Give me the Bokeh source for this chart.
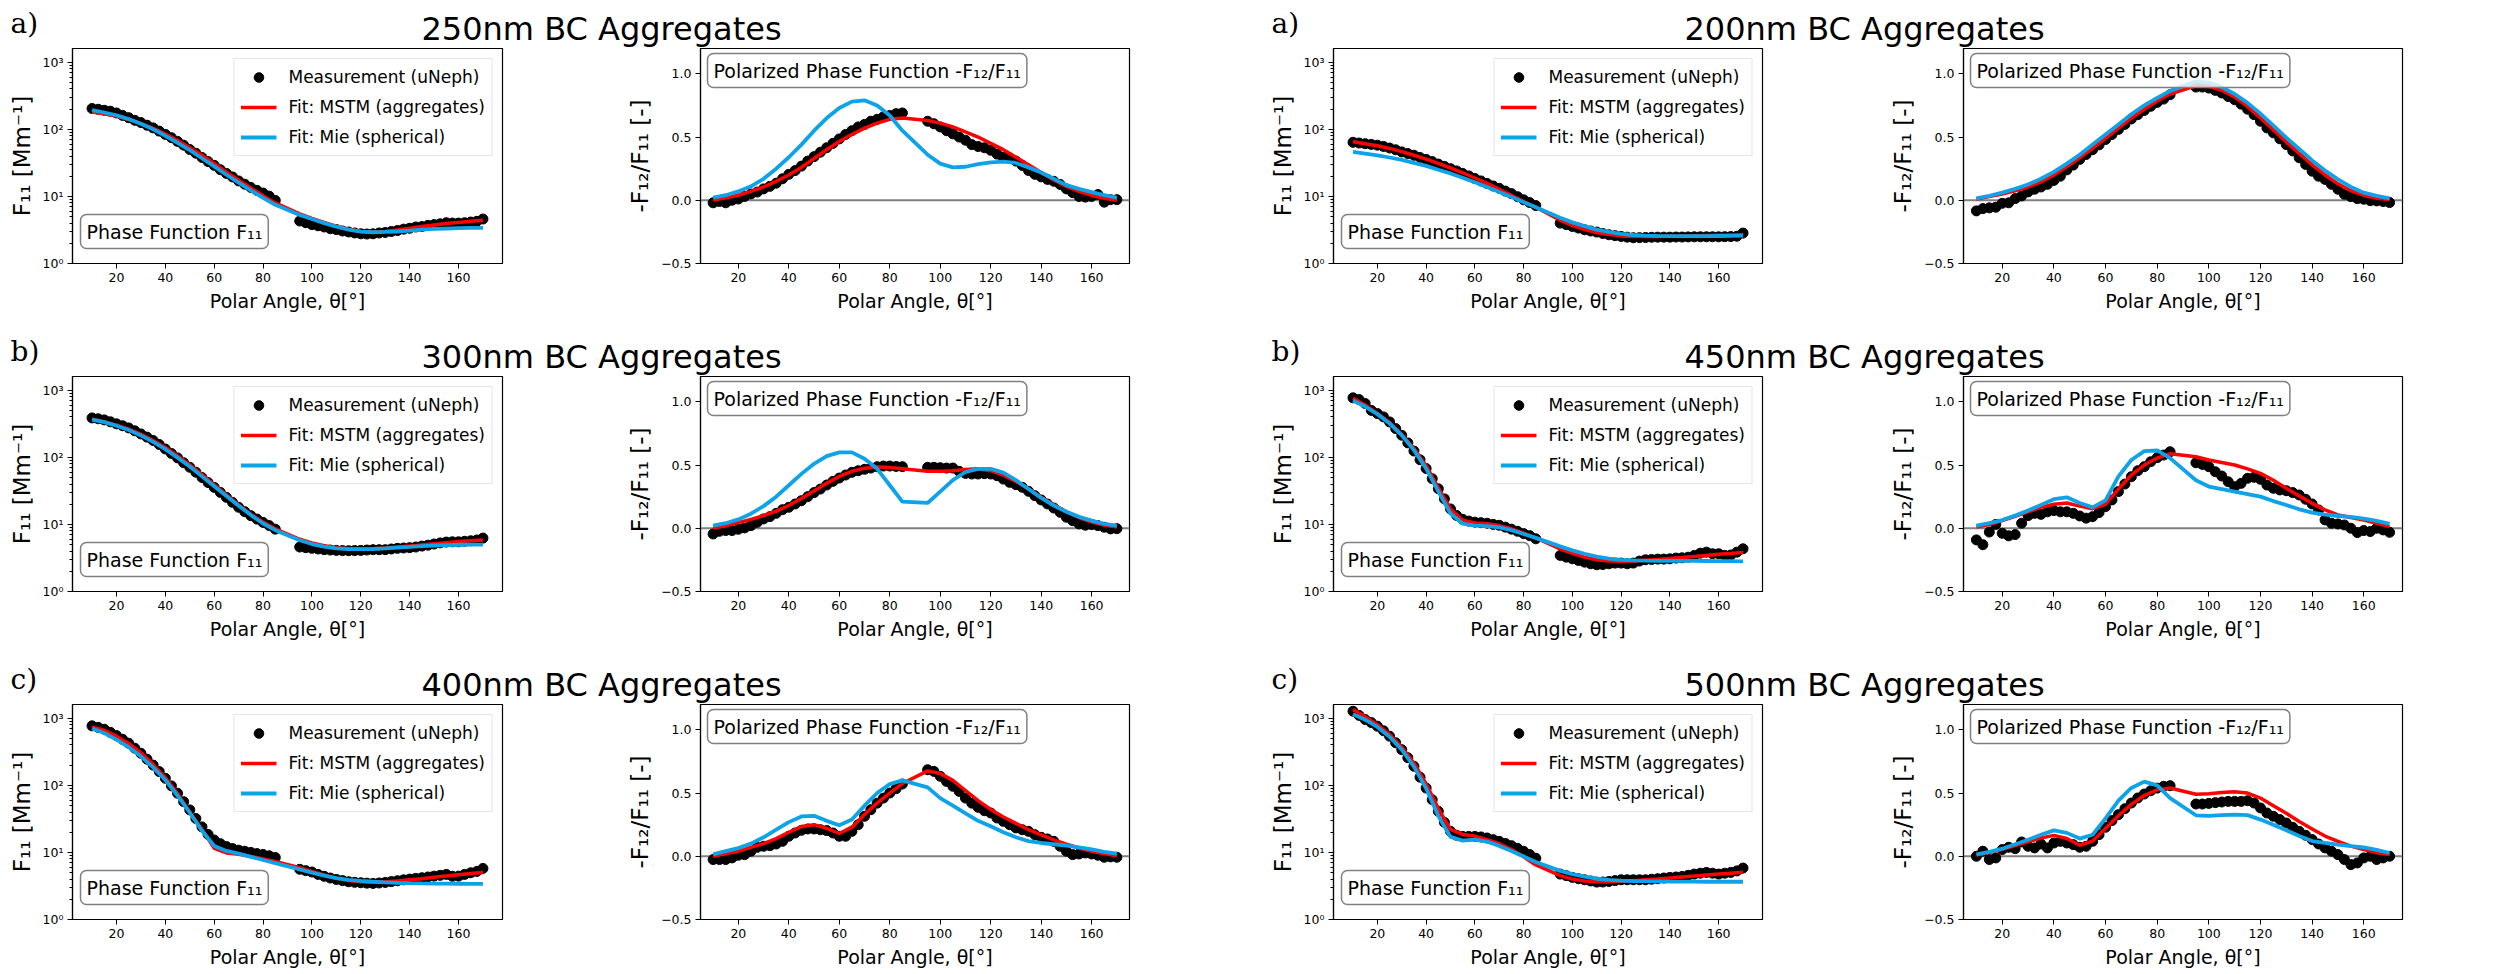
from bokeh.plotting import figure
from bokeh.models import Range1d, FixedTicker, Legend, LegendItem, Label, Span
from bokeh.layouts import column, row
from bokeh.core.properties import value
from bokeh.embed import file_html
from bokeh.resources import INLINE

# ---------------- data ----------------
TH_MEAS = [10, 12.5, 15, 17.5, 20, 22.5, 25, 27.5, 30, 32.5, 35, 37.5, 40, 42.5, 45, 47.5,
           50, 52.5, 55, 57.5, 60, 62.5, 65, 67.5, 70, 72.5, 75, 77.5, 80, 82.5, 85,
           95, 97.5, 100, 102.5, 105, 107.5, 110, 112.5, 115, 117.5, 120, 122.5, 125, 127.5,
           130, 132.5, 135, 137.5, 140, 142.5, 145, 147.5, 150, 152.5, 155, 157.5, 160,
           162.5, 165, 167.5, 170]
TH_FIT = [10, 15, 20, 25, 30, 35, 40, 45, 50, 55, 60, 65, 70, 75, 80, 85,
          95, 100, 105, 110, 115, 120, 125, 130, 135, 140, 145, 150, 155, 160, 165, 170]

XTICKS = [20, 40, 60, 80, 100, 120, 140, 160]
LOG_TICKS = [1, 10, 100, 1000]
LOG_LABELS = {1: "10\u2070", 10: "10\u00b9", 100: "10\u00b2", 1000: "10\u00b3"}
LOG_MINOR = [2, 3, 4, 5, 6, 7, 8, 9, 20, 30, 40, 50, 60, 70, 80, 90,
             200, 300, 400, 500, 600, 700, 800, 900]
POL_TICKS = [-0.5, 0.0, 0.5, 1.0]
POL_LABELS = {-0.5: "\u22120.5", 0.0: "0.0", 0.5: "0.5", 1.0: "1.0"}

TITLES = ["250nm BC Aggregates", "200nm BC Aggregates",
          "300nm BC Aggregates", "450nm BC Aggregates",
          "400nm BC Aggregates", "500nm BC Aggregates"]
LETTERS = ["a)", "a)", "b)", "b)", "c)", "c)"]

LEG_LABELS = ["Measurement (uNeph)", "Fit: MSTM (aggregates)", "Fit: Mie (spherical)"]
F11_BOX = "Phase Function F\u2081\u2081"
POL_BOX = "Polarized Phase Function -F\u2081\u2082/F\u2081\u2081"
XLABEL = "Polar Angle, \u03b8[\u00b0]"
F11_YLABEL = "F\u2081\u2081 [Mm\u207b\u00b9]"
POL_YLABEL = "-F\u2081\u2082/F\u2081\u2081 [-]"

# 250 nm
F11_MEAS_250 = [204, 199, 192, 186, 175, 161, 149, 136, 126, 115, 105, 94, 84, 75, 66, 58, 50, 44, 38, 33,
                29, 25, 22, 19.5, 17, 15.2, 13.6, 12.3, 11.2, 10.1, 8.7,
                4.3, 4.05, 3.8, 3.65, 3.5, 3.3, 3.2, 3.05, 2.95, 2.85, 2.77, 2.75, 2.77, 2.85, 2.9, 3.0,
                3.1, 3.25, 3.35, 3.5, 3.55, 3.7, 3.8, 3.9, 4.05, 4.0, 4.0, 4.05, 4.15, 4.25, 4.6]
F11_MSTM_250 = [181, 170, 158, 140, 122, 103, 85, 68, 53, 41, 31, 23, 17.5, 13.3, 10.2, 8.0,
                5.5, 4.7, 4.1, 3.6, 3.25, 3.0, 2.95, 3.0, 3.15, 3.35, 3.55, 3.75, 3.95, 4.1, 4.25, 4.4]
F11_MIE_250 = [193, 178, 162, 142, 121, 100, 80, 63, 49, 37, 28, 21, 16, 12.3, 9.5, 7.5,
               5.3, 4.6, 4.0, 3.55, 3.2, 2.98, 2.92, 2.95, 3.0, 3.1, 3.2, 3.27, 3.32, 3.37, 3.4, 3.4]
POL_MEAS_250 = [-0.02, -0.01, -0.02, 0.0, 0.01, 0.03, 0.05, 0.065, 0.09, 0.11, 0.135, 0.17, 0.205, 0.235,
                0.27, 0.31, 0.345, 0.38, 0.415, 0.45, 0.485, 0.52, 0.55, 0.58, 0.60, 0.625, 0.64, 0.66,
                0.67, 0.685, 0.69,
                0.625, 0.605, 0.58, 0.55, 0.525, 0.50, 0.475, 0.44, 0.425, 0.415, 0.395, 0.365, 0.34,
                0.335, 0.31, 0.275, 0.235, 0.205, 0.185, 0.165, 0.15, 0.125, 0.09, 0.06, 0.03, 0.025,
                0.03, 0.045, -0.015, 0.005, 0.005]
POL_MSTM_250 = [0.0, 0.02, 0.04, 0.07, 0.105, 0.15, 0.20, 0.26, 0.33, 0.40, 0.465, 0.52, 0.57, 0.61, 0.64, 0.65,
                0.63, 0.61, 0.58, 0.54, 0.50, 0.45, 0.40, 0.34, 0.28, 0.22, 0.16, 0.11, 0.07, 0.04, 0.015, 0.0]
POL_MIE_250 = [0.02, 0.04, 0.07, 0.11, 0.17, 0.25, 0.34, 0.44, 0.55, 0.65, 0.73, 0.78, 0.79, 0.75, 0.67, 0.55,
               0.36, 0.29, 0.26, 0.265, 0.285, 0.30, 0.305, 0.295, 0.26, 0.22, 0.17, 0.12, 0.09, 0.065, 0.04, 0.02]

# 200 nm
F11_MEAS_200 = [64, 62.5, 61, 59.5, 58, 55.5, 52.6, 49.5, 46, 43.5, 41, 38, 35.6, 33, 30.3, 28, 25.9, 24, 22,
                20.2, 18.5, 17, 15.6, 14.3, 13.2, 12, 11, 9.9, 8.9, 8.1, 7.3,
                4.0, 3.8, 3.56, 3.37, 3.18, 3.05, 2.94, 2.8, 2.68, 2.6, 2.53, 2.47, 2.42, 2.43, 2.44, 2.46,
                2.47, 2.47, 2.47, 2.48, 2.48, 2.49, 2.5, 2.5, 2.5, 2.5, 2.5, 2.51, 2.52, 2.55, 2.84]
F11_MSTM_200 = [65, 61, 57, 52, 46.5, 41, 36, 31, 26.5, 22.5, 18.8, 15.6, 12.8, 10.4, 8.4, 6.9,
                4.4, 3.7, 3.2, 2.9, 2.7, 2.58, 2.53, 2.52, 2.53, 2.55, 2.57, 2.6, 2.62, 2.64, 2.66, 2.68]
F11_MIE_200 = [46, 43.5, 41, 38, 35, 31.5, 28.5, 25, 22, 19, 16.2, 13.8, 11.6, 9.8, 8.2, 6.9,
               4.8, 4.1, 3.6, 3.2, 2.95, 2.77, 2.66, 2.6, 2.57, 2.55, 2.55, 2.55, 2.56, 2.57, 2.58, 2.6]
POL_MEAS_200 = [-0.084, -0.066, -0.06, -0.055, -0.024, -0.02, 0.013, 0.034, 0.066, 0.087, 0.105, 0.126, 0.157,
                0.19, 0.24, 0.278, 0.323, 0.362, 0.40, 0.438, 0.48, 0.52, 0.56, 0.60, 0.643, 0.677, 0.71,
                0.743, 0.774, 0.80, 0.835,
                0.895, 0.895, 0.887, 0.869, 0.848, 0.82, 0.795, 0.76, 0.72, 0.677, 0.625, 0.572, 0.533,
                0.486, 0.44, 0.39, 0.336, 0.283, 0.23, 0.19, 0.165, 0.126, 0.087, 0.047, 0.029, 0.013,
                0.008, -0.003, -0.005, -0.01, -0.018]
POL_MSTM_200 = [0.01, 0.03, 0.05, 0.075, 0.105, 0.145, 0.20, 0.265, 0.335, 0.41, 0.49, 0.57, 0.65, 0.72, 0.785, 0.84,
                0.905, 0.90, 0.87, 0.815, 0.74, 0.65, 0.555, 0.46, 0.37, 0.28, 0.20, 0.13, 0.075, 0.04, 0.015, 0.005]
POL_MIE_200 = [0.015, 0.035, 0.06, 0.09, 0.125, 0.17, 0.225, 0.29, 0.36, 0.44, 0.52, 0.60, 0.68, 0.75, 0.81, 0.865,
               0.94, 0.93, 0.895, 0.84, 0.77, 0.685, 0.59, 0.495, 0.405, 0.315, 0.235, 0.165, 0.105, 0.06, 0.035, 0.015]

# 300 nm
F11_MEAS_300 = [386, 375, 361, 338, 315, 295, 274, 248, 223, 200, 178, 155, 133, 114, 98, 83, 71, 60, 50, 42,
                35.6, 30, 25.3, 21.3, 18, 15.5, 13.5, 12, 10.7, 9.6, 8.5,
                4.6, 4.5, 4.4, 4.3, 4.2, 4.15, 4.1, 4.07, 4.05, 4.07, 4.1, 4.15, 4.2, 4.2, 4.2, 4.3, 4.4,
                4.45, 4.5, 4.6, 4.75, 4.9, 5.1, 5.3, 5.45, 5.5, 5.5, 5.6, 5.7, 5.85, 6.25]
F11_MSTM_300 = [370, 340, 300, 262, 220, 178, 140, 105, 77, 55, 39, 27.5, 19.5, 14.2, 10.8, 8.6,
                6.0, 5.3, 4.8, 4.5, 4.35, 4.3, 4.35, 4.45, 4.6, 4.75, 4.95, 5.15, 5.35, 5.55, 5.7, 5.85]
F11_MIE_300 = [365, 335, 295, 255, 212, 170, 132, 99, 73, 52, 37, 26.5, 19, 13.8, 10.3, 8.2,
               5.8, 5.1, 4.65, 4.4, 4.3, 4.28, 4.3, 4.38, 4.5, 4.62, 4.75, 4.85, 4.92, 4.97, 5.0, 5.0]
POL_MEAS_300 = [-0.045, -0.024, -0.018, -0.018, -0.008, 0.003, 0.021, 0.047, 0.074, 0.092, 0.118, 0.147, 0.166,
                0.192, 0.218, 0.25, 0.282, 0.31, 0.342, 0.371, 0.397, 0.421, 0.442, 0.455, 0.466, 0.476,
                0.487, 0.492, 0.492, 0.489, 0.487,
                0.482, 0.482, 0.479, 0.476, 0.476, 0.45, 0.434, 0.429, 0.429, 0.432, 0.429, 0.416, 0.389,
                0.363, 0.345, 0.324, 0.292, 0.258, 0.224, 0.192, 0.16, 0.126, 0.087, 0.06, 0.034, 0.024,
                0.029, 0.021, 0.008, -0.005, -0.003]
POL_MSTM_300 = [0.0, 0.02, 0.045, 0.07, 0.10, 0.135, 0.18, 0.235, 0.295, 0.355, 0.41, 0.45, 0.475, 0.485, 0.48, 0.47,
                0.45, 0.45, 0.455, 0.465, 0.47, 0.455, 0.42, 0.37, 0.31, 0.245, 0.185, 0.13, 0.085, 0.05, 0.025, 0.01]
POL_MIE_300 = [0.02, 0.04, 0.07, 0.115, 0.175, 0.25, 0.34, 0.43, 0.51, 0.57, 0.60, 0.60, 0.55, 0.47, 0.34, 0.21,
               0.20, 0.29, 0.38, 0.445, 0.47, 0.47, 0.44, 0.38, 0.31, 0.24, 0.18, 0.13, 0.09, 0.06, 0.035, 0.02]

# 450 nm
F11_MEAS_450 = [769, 725, 632, 500, 448, 400, 337, 268, 213, 164, 124, 92, 68, 48, 34, 24, 17, 13.6, 11.9, 11.2,
                10.8, 10.6, 10.4, 10, 9.7, 9.1, 8.5, 7.9, 7.3, 6.8, 6.1,
                3.45, 3.25, 3.07, 2.9, 2.74, 2.59, 2.5, 2.52, 2.59, 2.65, 2.65, 2.59, 2.65, 2.84, 2.97, 3.0,
                3.04, 3.04, 3.07, 3.15, 3.18, 3.25, 3.45, 3.73, 3.86, 3.65, 3.65, 3.45, 3.5, 3.86, 4.33]
F11_MSTM_450 = [760, 600, 450, 330, 220, 135, 75, 35, 17, 11.5, 10.5, 10.2, 9.6, 8.6, 7.4, 6.3,
                4.3, 3.7, 3.25, 2.98, 2.85, 2.82, 2.85, 2.92, 3.0, 3.1, 3.2, 3.32, 3.45, 3.58, 3.7, 3.8]
F11_MIE_450 = [700, 570, 440, 320, 212, 128, 68, 31, 14.5, 10.3, 9.6, 9.4, 9.0, 8.2, 7.2, 6.3,
               4.7, 4.1, 3.65, 3.3, 3.1, 2.97, 2.9, 2.88, 2.87, 2.87, 2.87, 2.86, 2.85, 2.84, 2.83, 2.82]
POL_MEAS_450 = [-0.092, -0.13, -0.03, 0.03, -0.04, -0.06, -0.05, 0.04, 0.1, 0.118, 0.11, 0.13, 0.14, 0.13,
                0.13, 0.118, 0.097, 0.08, 0.092, 0.124, 0.171, 0.224, 0.29, 0.35, 0.408, 0.455, 0.487,
                0.526, 0.558, 0.579, 0.605,
                0.518, 0.505, 0.487, 0.447, 0.413, 0.368, 0.329, 0.355, 0.395, 0.403, 0.387, 0.342, 0.316,
                0.303, 0.297, 0.282, 0.263, 0.229, 0.192, 0.145, 0.066, 0.039, 0.034, 0.026, 0.0, -0.034,
                -0.018, -0.026, 0.0, -0.013, -0.032]
POL_MSTM_450 = [0.01, 0.03, 0.06, 0.095, 0.13, 0.165, 0.19, 0.20, 0.175, 0.155, 0.19, 0.31, 0.42, 0.50, 0.555, 0.59,
                0.566, 0.54, 0.52, 0.50, 0.47, 0.434, 0.38, 0.316, 0.256, 0.197, 0.145, 0.105, 0.085, 0.065, 0.04, 0.013]
POL_MIE_450 = [0.02, 0.04, 0.065, 0.10, 0.14, 0.185, 0.23, 0.245, 0.20, 0.165, 0.22, 0.41, 0.54, 0.61, 0.615, 0.555,
               0.38, 0.33, 0.31, 0.29, 0.27, 0.25, 0.215, 0.184, 0.15, 0.124, 0.108, 0.097, 0.09, 0.076, 0.058, 0.034]

# 400 nm
F11_MEAS_400 = [769, 730, 685, 615, 550, 485, 424, 357, 300, 245, 200, 160, 127, 98, 76, 57, 43, 32, 24, 18.5,
                15.3, 13.5, 12.2, 11.4, 10.8, 10.4, 10, 9.6, 9.3, 8.9, 8.4,
                5.6, 5.35, 5.1, 4.7, 4.4, 4.15, 3.95, 3.8, 3.65, 3.58, 3.53, 3.48, 3.45, 3.5, 3.57, 3.67,
                3.78, 3.9, 4.0, 4.1, 4.19, 4.3, 4.43, 4.55, 4.7, 4.4, 4.43, 4.7, 4.97, 5.2, 5.77]
F11_MSTM_400 = [740, 660, 540, 420, 305, 205, 130, 75, 40, 22, 11.5, 9.8, 9.4, 8.7, 8.0, 7.3,
                5.9, 5.2, 4.6, 4.1, 3.8, 3.65, 3.6, 3.65, 3.75, 3.9, 4.05, 4.25, 4.45, 4.65, 4.85, 5.0]
F11_MIE_400 = [700, 600, 480, 370, 270, 185, 120, 70, 39, 21, 12.5, 10.5, 9.6, 8.6, 7.7, 6.9,
               5.6, 5.0, 4.5, 4.15, 3.9, 3.75, 3.65, 3.58, 3.52, 3.48, 3.45, 3.43, 3.42, 3.41, 3.4, 3.4]
POL_MEAS_400 = [-0.026, -0.026, -0.026, -0.013, 0.008, 0.013, 0.04, 0.071, 0.079, 0.084, 0.097, 0.118, 0.158,
                0.184, 0.205, 0.216, 0.216, 0.21, 0.203, 0.184, 0.158, 0.158, 0.197, 0.25, 0.316, 0.368,
                0.42, 0.46, 0.50, 0.534, 0.571,
                0.684, 0.671, 0.632, 0.592, 0.553, 0.513, 0.46, 0.42, 0.387, 0.36, 0.342, 0.303, 0.276,
                0.25, 0.224, 0.21, 0.197, 0.171, 0.15, 0.137, 0.118, 0.079, 0.04, 0.013, 0.018, 0.026,
                0.018, 0.008, -0.008, -0.005, -0.008]
POL_MSTM_400 = [0.0, 0.02, 0.04, 0.07, 0.10, 0.14, 0.19, 0.235, 0.25, 0.22, 0.18, 0.23, 0.33, 0.42, 0.50, 0.575,
                0.675, 0.655, 0.60, 0.52, 0.44, 0.37, 0.31, 0.26, 0.21, 0.17, 0.13, 0.095, 0.065, 0.04, 0.02, 0.005]
POL_MIE_400 = [0.015, 0.04, 0.065, 0.10, 0.15, 0.21, 0.27, 0.315, 0.32, 0.28, 0.245, 0.29, 0.40, 0.50, 0.57, 0.60,
               0.545, 0.46, 0.40, 0.34, 0.28, 0.237, 0.19, 0.15, 0.12, 0.105, 0.095, 0.085, 0.07, 0.055, 0.035, 0.02]

# 500 nm
F11_MEAS_500 = [1271, 1100, 955, 860, 760, 650, 540, 430, 340, 258, 192, 132, 91, 61, 41, 28, 20.6, 18, 17.3,
                17.3, 17.3, 17, 16.4, 15.5, 14.6, 13.6, 12.6, 11.5, 10.4, 9.3, 8.2,
                4.75, 4.5, 4.24, 4.05, 3.91, 3.75, 3.61, 3.62, 3.69, 3.8, 3.91, 3.91, 3.91, 3.91, 3.91, 3.98,
                4.05, 4.15, 4.24, 4.3, 4.38, 4.55, 4.75, 4.9, 5.03, 4.9, 4.75, 4.9, 5.03, 5.3, 5.84]
F11_MSTM_500 = [1350, 1050, 800, 570, 370, 215, 105, 45, 22, 18.5, 17.5, 15.5, 13.5, 11, 8.6, 6.5,
                4.5, 4.0, 3.75, 3.65, 3.65, 3.7, 3.78, 3.9, 4.02, 4.15, 4.3, 4.45, 4.6, 4.75, 4.9, 5.05]
F11_MIE_500 = [1150, 950, 740, 530, 340, 190, 90, 35, 17, 15, 15.5, 14.5, 12.5, 10.5, 8.7, 7.2,
               5.3, 4.75, 4.35, 4.05, 3.9, 3.8, 3.75, 3.72, 3.7, 3.68, 3.67, 3.66, 3.65, 3.65, 3.65, 3.65]
POL_MEAS_500 = [0.0, 0.04, -0.026, -0.013, 0.053, 0.071, 0.06, 0.113, 0.079, 0.066, 0.097, 0.066, 0.105, 0.118,
                0.105, 0.092, 0.071, 0.079, 0.118, 0.171, 0.229, 0.282, 0.329, 0.376, 0.421, 0.461, 0.492,
                0.518, 0.539, 0.553, 0.558,
                0.413, 0.413, 0.418, 0.424, 0.429, 0.434, 0.434, 0.434, 0.439, 0.421, 0.382, 0.342, 0.316,
                0.29, 0.263, 0.229, 0.197, 0.166, 0.132, 0.097, 0.066, 0.04, 0.013, -0.026, -0.066, -0.053,
                -0.013, 0.0, -0.026, -0.013, 0.0]
POL_MSTM_500 = [0.01, 0.03, 0.055, 0.085, 0.115, 0.145, 0.165, 0.14, 0.087, 0.12, 0.22, 0.32, 0.41, 0.48, 0.525, 0.54,
                0.49, 0.495, 0.505, 0.51, 0.50, 0.46, 0.40, 0.34, 0.275, 0.215, 0.16, 0.118, 0.08, 0.053, 0.03, 0.013]
POL_MIE_500 = [0.015, 0.035, 0.06, 0.095, 0.13, 0.17, 0.205, 0.185, 0.14, 0.17, 0.30, 0.44, 0.54, 0.59, 0.56, 0.46,
               0.324, 0.32, 0.325, 0.33, 0.325, 0.29, 0.25, 0.205, 0.16, 0.12, 0.105, 0.092, 0.08, 0.07, 0.05, 0.026]

# panel table: per row, left pair then right pair
ROWS = [
    [(F11_MEAS_250, F11_MSTM_250, F11_MIE_250), (POL_MEAS_250, POL_MSTM_250, POL_MIE_250),
     (F11_MEAS_200, F11_MSTM_200, F11_MIE_200), (POL_MEAS_200, POL_MSTM_200, POL_MIE_200)],
    [(F11_MEAS_300, F11_MSTM_300, F11_MIE_300), (POL_MEAS_300, POL_MSTM_300, POL_MIE_300),
     (F11_MEAS_450, F11_MSTM_450, F11_MIE_450), (POL_MEAS_450, POL_MSTM_450, POL_MIE_450)],
    [(F11_MEAS_400, F11_MSTM_400, F11_MIE_400), (POL_MEAS_400, POL_MSTM_400, POL_MIE_400),
     (F11_MEAS_500, F11_MSTM_500, F11_MIE_500), (POL_MEAS_500, POL_MSTM_500, POL_MIE_500)],
]

# ---------------- style / geometry ----------------
FONT = "DejaVu Sans"
SERIF = "DejaVu Serif"
RED = "#ff0000"
BLUE = "#0ea3e8"
W = 2506
COL_GEOM = [(620, 72, 430), (633, 80, 429), (627, 80, 429), (626, 83, 439)]
KINDS = ["f11", "pol", "f11", "pol"]
FRAME_H = 215
TITLE_H = 47
TOP_B = 1
BOTTOM_B = [65, 65, 55]
F11_X = (2, 178)
F11_Y = (1, 1600)
POL_X = (5, 175)
POL_Y = (-0.5, 1.2)


def style_axes(p):
    for ax in (p.xaxis[0], p.yaxis[0]):
        ax.axis_label_text_font = FONT
        ax.axis_label_text_font_size = "19px"
        ax.axis_label_text_font_style = "normal"
        ax.axis_label_text_color = "black"
        ax.major_label_text_font = FONT
        ax.major_label_text_font_size = "12.5px"
        ax.major_label_text_color = "black"
        ax.axis_line_color = "black"
        ax.axis_line_width = 1.2
        ax.major_tick_line_color = "black"
        ax.minor_tick_line_color = "black"
        ax.major_tick_in = 0
        ax.major_tick_out = 5
        ax.minor_tick_in = 0
        ax.minor_tick_out = 3
        ax.major_label_standoff = 4
        ax.axis_label_standoff = 5
    p.yaxis.axis_label_text_font_size = "23px"
    p.xaxis.ticker = FixedTicker(ticks=XTICKS)
    p.xaxis.minor_tick_line_color = None
    p.xaxis.axis_label = XLABEL
    p.xgrid.visible = False
    p.ygrid.visible = False
    p.outline_line_color = "black"
    p.outline_line_width = 1.2
    p.outline_line_alpha = 1.0


def make_panel(kind, col, rowi, meas, mstm, mie):
    fw, left, frame_w = COL_GEOM[col]
    h = TOP_B + FRAME_H + BOTTOM_B[rowi]
    if kind == "f11":
        xr, yr = F11_X, F11_Y
        p = figure(width=fw, height=h, x_range=Range1d(*xr), y_range=Range1d(*yr),
                   y_axis_type="log", toolbar_location=None, tools="", output_backend="svg",
                   title=None)
    else:
        xr, yr = POL_X, POL_Y
        p = figure(width=fw, height=h, x_range=Range1d(*xr), y_range=Range1d(*yr),
                   toolbar_location=None, tools="", output_backend="svg", title=None)
    p.min_border_left = left
    p.min_border_right = fw - left - frame_w
    p.min_border_top = TOP_B
    p.min_border_bottom = BOTTOM_B[rowi]
    style_axes(p)

    if kind == "f11":
        p.yaxis.ticker = FixedTicker(ticks=LOG_TICKS, minor_ticks=LOG_MINOR)
        p.yaxis.major_label_overrides = LOG_LABELS
        p.yaxis.axis_label = F11_YLABEL
    else:
        p.yaxis.ticker = FixedTicker(ticks=POL_TICKS)
        p.yaxis.major_label_overrides = POL_LABELS
        p.yaxis.minor_tick_line_color = None
        p.yaxis.axis_label = POL_YLABEL
        p.add_layout(Span(location=0, dimension="width", line_color="#808080",
                          line_width=2, level="underlay"))

    sc = p.scatter(TH_MEAS, meas, size=10, color="black", marker="circle")
    lr = p.line(TH_FIT, mstm, line_color=RED, line_width=3.5)
    lb = p.line(TH_FIT, mie, line_color=BLUE, line_width=3.8)

    # box label position from pixel offsets inside the frame
    if kind == "f11":
        bx = xr[0] + 8 * (xr[1] - xr[0]) / frame_w
        by = 10 ** (32 * 3.2041 / FRAME_H)
        txt = F11_BOX
    else:
        bx = xr[0] + 7 * (xr[1] - xr[0]) / frame_w
        by = yr[1] - 22 * (yr[1] - yr[0]) / FRAME_H
        txt = POL_BOX
    p.add_layout(Label(x=bx, y=by, text=txt, text_font=FONT, text_font_size="19px",
                       text_align="left", text_baseline="middle", text_color="black",
                       background_fill_color="white", background_fill_alpha=0.8,
                       border_line_color="#808080", border_line_width=1.5,
                       padding=6, border_radius=6))

    if kind == "f11":
        leg = Legend(items=[LegendItem(label=LEG_LABELS[0], renderers=[sc]),
                            LegendItem(label=LEG_LABELS[1], renderers=[lr]),
                            LegendItem(label=LEG_LABELS[2], renderers=[lb])],
                     location="top_right")
        leg.label_text_font = FONT
        leg.label_text_font_size = "17px"
        leg.label_text_color = "black"
        leg.glyph_width = 36
        leg.glyph_height = 24
        leg.label_height = 24
        leg.spacing = 6
        leg.padding = 6
        leg.margin = 10
        leg.label_standoff = 12
        leg.border_line_color = "#cccccc"
        leg.border_line_width = 1
        leg.background_fill_alpha = 0.8
        p.add_layout(leg)
    return p


def make_title_fig(rowi):
    p = figure(width=W, height=TITLE_H, x_range=Range1d(0, W), y_range=Range1d(TITLE_H, 0),
               x_axis_type=None, y_axis_type=None, toolbar_location=None, tools="",
               output_backend="svg", min_border=0, outline_line_color=None, title=None)
    p.text(x=[601, 1864], y=[28, 28], text=[TITLES[2 * rowi], TITLES[2 * rowi + 1]],
           text_font=value(FONT), text_font_size=value("32px"), text_align="center",
           text_baseline="alphabetic", text_color="black")
    p.text(x=[10, 1271], y=[23, 23], text=[LETTERS[2 * rowi], LETTERS[2 * rowi + 1]],
           text_font=value(SERIF), text_font_size=value("28px"), text_align="left",
           text_baseline="alphabetic", text_color="black")
    return p


children = []
for r in range(3):
    children.append(make_title_fig(r))
    figs = []
    for c in range(4):
        meas, mstm, mie = ROWS[r][c]
        figs.append(make_panel(KINDS[c], c, r, meas, mstm, mie))
    children.append(row(*figs))

root = column(*children)
open("out.html", "w").write(file_html(root, INLINE))
